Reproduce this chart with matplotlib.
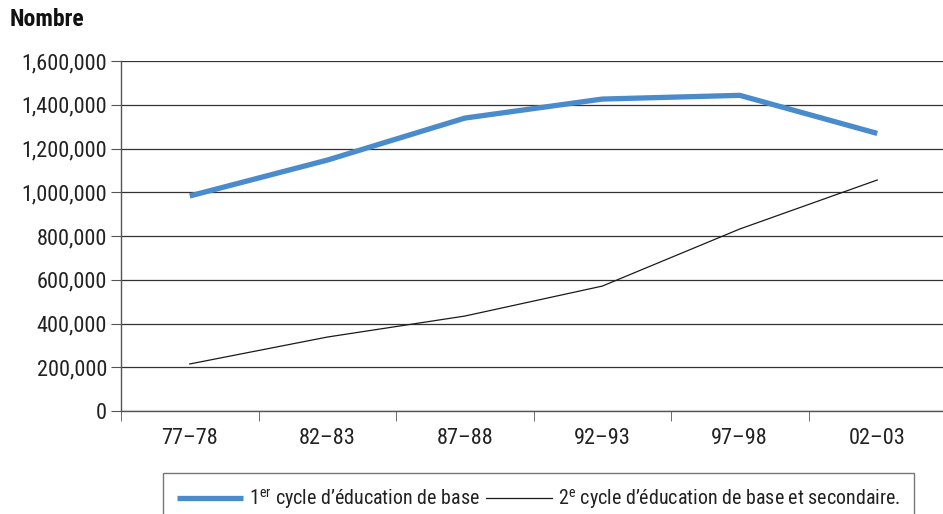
import matplotlib
matplotlib.use("Agg")
import matplotlib.pyplot as plt
from matplotlib.ticker import FuncFormatter

plt.rcParams['font.family'] = ['Roboto Condensed', 'DejaVu Sans']
plt.rcParams['mathtext.fontset'] = 'custom'
plt.rcParams['mathtext.rm'] = 'Roboto Condensed'

# effectifs par année scolaire
annees = ['77–78', '82–83', '87–88', '92–93', '97–98', '02–03']
cycle1 = [983000, 1147000, 1339000, 1426000, 1443000, 1269000]
cycle2 = [215000, 338000, 434000, 571000, 832000, 1056000]

label1 = r"1$^{\mathrm{er}}$ cycle d’éducation de base"
label2 = r"2$^{\mathrm{e}}$ cycle d’éducation de base et secondaire."

fig = plt.figure(figsize=(9.43, 5.14), dpi=100)
ax = fig.add_axes([121/943, 1 - 411/514, 825/943, 350/514])

x = list(range(len(annees)))
ax.plot(x, cycle1, color='#4a8bcc', lw=3.8, solid_capstyle='butt', label=label1, zorder=3)
ax.plot(x, cycle2, color='#1a1a1a', lw=0.9, label=label2, zorder=3)

ax.set_xlim(-0.5, 5.5)
ax.set_ylim(0, 1600000)
ax.set_yticks(range(0, 1600001, 200000))
ax.yaxis.set_major_formatter(FuncFormatter(lambda v, p: f"{int(v):,}"))
ax.set_xticks(x)
ax.set_xticklabels(annees)
ax.set_xticks([i - 0.5 for i in range(len(annees) + 1)], minor=True)

ax.grid(axis='y', color='#333333', lw=0.9)
ax.set_axisbelow(True)
for s in ['top', 'right']:
    ax.spines[s].set_visible(False)
for s in ['left', 'bottom']:
    ax.spines[s].set_color('#555555')
    ax.spines[s].set_linewidth(1.0)

ax.tick_params(axis='x', which='major', length=0, pad=12, labelsize=16, labelcolor='#222222')
ax.tick_params(axis='x', which='minor', length=7, color='#555555', direction='out')
ax.tick_params(axis='y', length=7, color='#555555', labelsize=16, labelcolor='#222222', pad=3)

fig.text(10/943, 1 - 20/514, "Nombre", fontsize=17, fontweight='bold', va='center', ha='left', color='#111111')

leg = fig.legend(loc='upper left', bbox_to_anchor=(163/943, 1 - 473/514), ncol=2,
                 frameon=True, fancybox=False, edgecolor='#555555', fontsize=14.4,
                 handlelength=3.3, columnspacing=0.3, handletextpad=0.3,
                 borderpad=0.7, borderaxespad=0)
leg.get_frame().set_linewidth(1.0)
for t in leg.get_texts():
    t.set_color('#222222')

fig.savefig('out.png', dpi=100)
